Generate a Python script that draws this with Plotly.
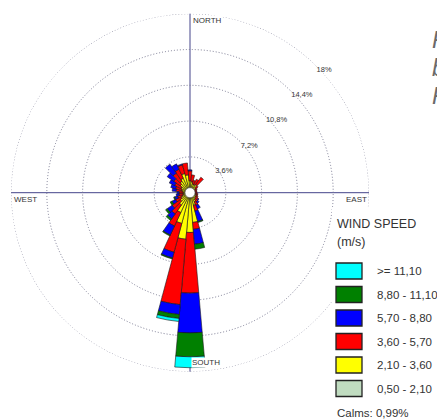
import plotly.graph_objects as go

# ---------------- data ----------------
directions = list(range(0, 360, 10))
speed_classes = ["0,50 - 2,10", "2,10 - 3,60", "3,60 - 5,70", "5,70 - 8,80", "8,80 - 11,10", ">= 11,10"]
class_colors = ["#c0dcc0", "#ffff00", "#ff0000", "#0000ff", "#008000", "#00ffff"]

# percent frequency per direction (0..350 step 10) for each speed class
pct_050_210 = [0.4, 0.4, 0.3, 0.3, 0.3, 0.3, 0.3, 0.3, 0.3, 0.3, 0.3, 0.3,
               0.3, 0.3, 0.3, 0.4, 0.4, 0.5, 0.5, 0.5, 0.5, 0.4, 0.4, 0.4,
               0.3, 0.3, 0.3, 0.3, 0.3, 0.3, 0.3, 0.4, 0.4, 0.4, 0.4, 0.4]
pct_210_360 = [0.8, 0.7, 0.6, 0.6, 0.7, 0.4, 0.3, 0.2, 0.2, 0.2, 0.3, 0.3,
               0.4, 0.4, 0.5, 0.6, 0.9, 2.5, 3.5, 4.2, 2.7, 1.8, 1.1, 0.8,
               0.7, 0.5, 0.4, 0.4, 0.5, 0.6, 0.7, 0.8, 1.0, 1.2, 1.6, 1.4]
pct_360_570 = [1.0, 0.7, 0.4, 0.6, 0.9, 0.3, 0.2, 0.2, 0.2, 0.2, 0.2, 0.2,
               0.2, 0.3, 0.3, 0.4, 0.6, 0.7, 6.1, 6.6, 3.0, 1.5, 1.1, 1.0,
               0.6, 0.5, 0.4, 0.4, 0.6, 0.6, 0.7, 0.8, 1.0, 1.0, 0.9, 1.2]
pct_570_880 = [0.1, 0.0, 0.0, 0.0, 0.0, 0.0, 0.0, 0.0, 0.0, 0.0, 0.0, 0.0,
               0.0, 0.1, 0.2, 0.4, 1.1, 1.5, 4.0, 1.0, 0.6, 1.0, 0.6, 0.6,
               0.4, 0.3, 0.3, 0.2, 0.4, 0.5, 0.6, 0.8, 1.1, 0.6, 0.1, 0.0]
pct_880_1110 = [0.0, 0.0, 0.0, 0.0, 0.0, 0.0, 0.0, 0.0, 0.0, 0.0, 0.0, 0.0,
                0.0, 0.0, 0.0, 0.0, 0.1, 0.5, 2.4, 0.4, 0.1, 0.1, 0.2, 0.2,
                0.2, 0.1, 0.0, 0.0, 0.0, 0.0, 0.0, 0.0, 0.0, 0.0, 0.0, 0.0]
pct_ge_1110 = [0.0, 0.0, 0.0, 0.0, 0.0, 0.0, 0.0, 0.0, 0.0, 0.0, 0.0, 0.0,
               0.0, 0.0, 0.0, 0.0, 0.0, 0.0, 1.1, 0.3, 0.0, 0.0, 0.0, 0.0,
               0.0, 0.0, 0.0, 0.0, 0.0, 0.0, 0.0, 0.0, 0.0, 0.0, 0.0, 0.0]
class_values = [pct_050_210, pct_210_360, pct_360_570, pct_570_880, pct_880_1110, pct_ge_1110]

ring_values = [3.6, 7.2, 10.8, 14.4, 18]
ring_labels = ["3,6%", "7,2%", "10,8%", "14,4%", "18%"]
compass_labels = ["NORTH", "SOUTH", "WEST", "EAST"]
legend_title = ["WIND SPEED", "(m/s)"]
calms_text = "Calms: 0,99%"
side_letters = ["F", "b", "F"]

# ---------------- figure ----------------
W, H = 445, 420
OFF = 8  # page body margin
FONT = "Arial, Liberation Sans, sans-serif"
TXT = "#333333"
GRID = "#7a7a92"
DOTS = "1px,2px"


def px(x):
    return (x - OFF) / W


def py(y):
    return 1 - (y - OFF) / H


fig = go.Figure()

# outer ring (last ring value) drawn as a dotted circle
ring_theta = [t / 2 for t in range(0, 721)]
fig.add_trace(go.Scatterpolar(
    r=[ring_values[-1]] * len(ring_theta), theta=ring_theta, mode="lines",
    line=dict(color=GRID, width=1, dash=DOTS), showlegend=False, hoverinfo="skip"))

for name, vals, col in zip(speed_classes, class_values, class_colors):
    fig.add_trace(go.Barpolar(
        r=[v if v > 0 else None for v in vals],
        theta=directions,
        name=name,
        marker=dict(color=col, line=dict(color="#1a1a1a", width=0.6)),
        showlegend=False,
        hoverinfo="skip",
    ))

# calm circle at centre
fig.add_trace(go.Scatterpolar(
    r=[0], theta=[0], mode="markers",
    marker=dict(size=10, color="white", line=dict(color="#555555", width=0.6)),
    showlegend=False, hoverinfo="skip"))

# ring labels
fig.add_trace(go.Scatterpolar(
    r=ring_values, theta=[45] * len(ring_values), mode="text",
    text=ring_labels, textposition="bottom right",
    textfont=dict(size=7.5, color=TXT, family=FONT),
    showlegend=False, hoverinfo="skip"))

R = 179
CX, CY = 190, 192.7
fig.update_layout(
    width=W, height=H,
    margin=dict(l=0, r=0, t=0, b=0),
    paper_bgcolor="white",
    font=dict(family=FONT, color=TXT),
    polar=dict(
        domain=dict(x=[px(CX - R), px(CX + R)], y=[py(CY + R), py(CY - R)]),
        bgcolor="white",
        bargap=0,
        radialaxis=dict(range=[0, 18], tickvals=ring_values, showticklabels=False,
                        ticks="", showline=False, gridcolor=GRID, griddash=DOTS,
                        gridwidth=1),
        angularaxis=dict(rotation=90, direction="clockwise", tickvals=[0, 90, 180, 270],
                         showticklabels=False, ticks="", showline=False,
                         gridcolor="#44448a", gridwidth=1),
    ),
)

shapes = [dict(type="rect", xref="paper", yref="paper", x0=px(332), x1=1.0,
               y0=0, y1=py(207), fillcolor="white", line=dict(width=0), layer="above")]
annotations = []

# compass labels
compass_pos = [(192, 20), (191, 362.7), (13, 199.5), (345, 199.5)]
for lab, (x, y) in zip(compass_labels, compass_pos):
    annotations.append(dict(text=lab, x=px(x), y=py(y), xref="paper", yref="paper",
                            xanchor="left", yanchor="middle", showarrow=False,
                            bgcolor="white", borderpad=0,
                            font=dict(size=8, color=TXT, family=FONT)))

# legend (drawn from class list, outermost class first)
annotations.append(dict(text=legend_title[0], x=px(335), y=py(224), xref="paper", yref="paper",
                        xanchor="left", yanchor="middle", showarrow=False,
                        font=dict(size=12.5, color=TXT, family=FONT)))
annotations.append(dict(text=legend_title[1], x=px(335), y=py(241.5), xref="paper", yref="paper",
                        xanchor="left", yanchor="middle", showarrow=False,
                        font=dict(size=12.5, color=TXT, family=FONT)))
row0, step = 271, 23.5
for i, (name, col) in enumerate(zip(speed_classes[::-1], class_colors[::-1])):
    yc = row0 + i * step
    shapes.append(dict(type="rect", xref="paper", yref="paper",
                       x0=px(336), x1=px(362), y0=py(yc + 8), y1=py(yc - 8),
                       fillcolor=col, line=dict(color="#222222", width=1.3), layer="above"))
    annotations.append(dict(text=name, x=px(375), y=py(yc), xref="paper", yref="paper",
                            xanchor="left", yanchor="middle", showarrow=False,
                            font=dict(size=11.5, color=TXT, family=FONT)))
annotations.append(dict(text=calms_text, x=px(335), y=py(413), xref="paper", yref="paper",
                        xanchor="left", yanchor="middle", showarrow=False,
                        font=dict(size=11.5, color=TXT, family=FONT)))

# cropped side text
for i, ch in enumerate(side_letters):
    annotations.append(dict(text="<i>" + ch + "</i>", x=px(430), y=py(40 + i * 28.2),
                            xref="paper", yref="paper", xanchor="left", yanchor="middle",
                            showarrow=False, font=dict(size=23, color="#6a6a6a", family=FONT)))

fig.update_layout(shapes=shapes, annotations=annotations)
fig.write_html("out.html")
